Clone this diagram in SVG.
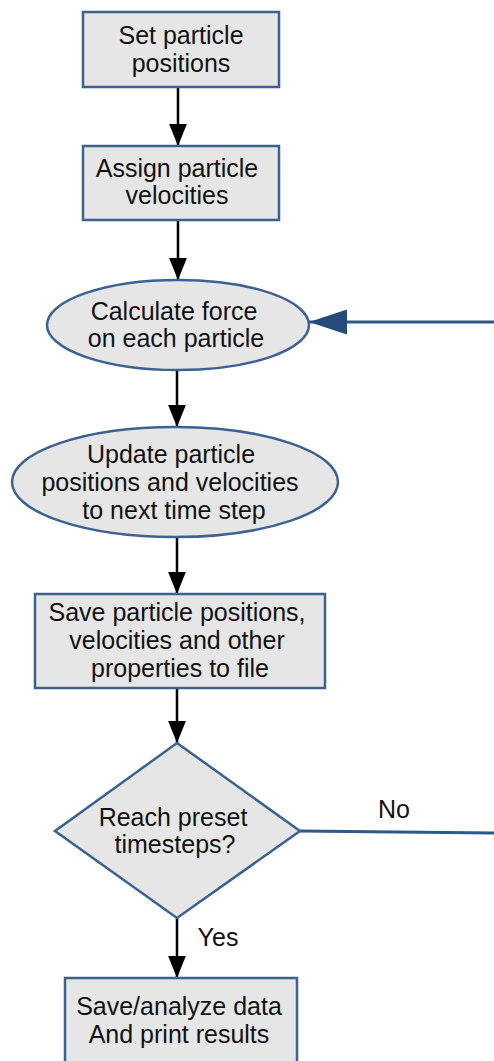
<svg xmlns="http://www.w3.org/2000/svg" width="494" height="1061" viewBox="0 0 494 1061">
  <style>
    .shape { fill: #e6e6e6; stroke: #3b6290; stroke-width: 2.5; }
    .label { font-family: "Liberation Sans", Arial, sans-serif; font-size: 25px; fill: #111; text-anchor: middle; }
    .flow { stroke: #000; stroke-width: 2.5; fill: none; }
    .loop { stroke: #2c5a88; stroke-width: 3; fill: none; }
  </style>
  <defs>
    <marker id="arrowBlack" markerUnits="userSpaceOnUse" markerWidth="22" markerHeight="28" refX="26" refY="10.5" orient="auto" viewBox="0 0 26 21">
      <path d="M0,0 L26,10.5 L0,21 Z" fill="#000"/>
    </marker>
    <marker id="arrowBlue" markerUnits="userSpaceOnUse" markerWidth="38" markerHeight="26" refX="38" refY="12.5" orient="auto" viewBox="0 0 38 25">
      <path d="M0,0 L38,12.5 L0,25 Z" fill="#244b7a"/>
    </marker>
  </defs>

  <rect width="494" height="1061" fill="#fff"/>

  <!-- connectors -->
  <g id="connectors">
    <line class="flow" x1="178" y1="87" x2="178" y2="146" marker-end="url(#arrowBlack)"/>
    <line class="flow" x1="178" y1="220" x2="178" y2="280" marker-end="url(#arrowBlack)"/>
    <line class="flow" x1="177" y1="370" x2="177" y2="427" marker-end="url(#arrowBlack)"/>
    <line class="flow" x1="177" y1="537" x2="177" y2="594" marker-end="url(#arrowBlack)"/>
    <line class="flow" x1="177" y1="688" x2="177" y2="743" marker-end="url(#arrowBlack)"/>
    <line class="flow" x1="177" y1="918" x2="177" y2="978" marker-end="url(#arrowBlack)"/>
    <line class="loop" x1="300" y1="831" x2="494" y2="833"/>
    <line class="loop" x1="494" y1="322" x2="309" y2="322" marker-end="url(#arrowBlue)"/>
    <text class="label" x="394" y="818">No</text>
    <text class="label" x="218" y="946">Yes</text>
  </g>

  <!-- nodes -->
  <g id="set-positions">
    <rect class="shape" x="83" y="12" width="196" height="75"/>
    <text class="label" x="181" y="44">Set particle</text>
    <text class="label" x="181" y="72">positions</text>
  </g>

  <g id="assign-velocities">
    <rect class="shape" x="83" y="146" width="196" height="74"/>
    <text class="label" x="177" y="177">Assign particle</text>
    <text class="label" x="177" y="204">velocities</text>
  </g>

  <g id="calculate-force">
    <ellipse class="shape" cx="178" cy="325" rx="131" ry="45"/>
    <text class="label" x="174" y="320">Calculate force</text>
    <text class="label" x="176" y="347">on each particle</text>
  </g>

  <g id="update-step">
    <ellipse class="shape" cx="175" cy="482" rx="163" ry="55"/>
    <text class="label" x="171" y="463">Update particle</text>
    <text class="label" x="170" y="491">positions and velocities</text>
    <text class="label" x="174" y="519">to next time step</text>
  </g>

  <g id="save-properties">
    <rect class="shape" x="35" y="594" width="290" height="94"/>
    <text class="label" x="177" y="621">Save particle positions,</text>
    <text class="label" x="177" y="649">velocities and other</text>
    <text class="label" x="180" y="677">properties to file</text>
  </g>

  <g id="reach-timesteps">
    <polygon class="shape" points="177,743 300,831 177,918 55,831"/>
    <text class="label" x="173" y="826">Reach preset</text>
    <text class="label" x="175" y="853">timesteps?</text>
  </g>

  <g id="save-analyze">
    <rect class="shape" x="65" y="978" width="232" height="95"/>
    <text class="label" x="179" y="1015">Save/analyze data</text>
    <text class="label" x="179" y="1043">And print results</text>
  </g>
</svg>
